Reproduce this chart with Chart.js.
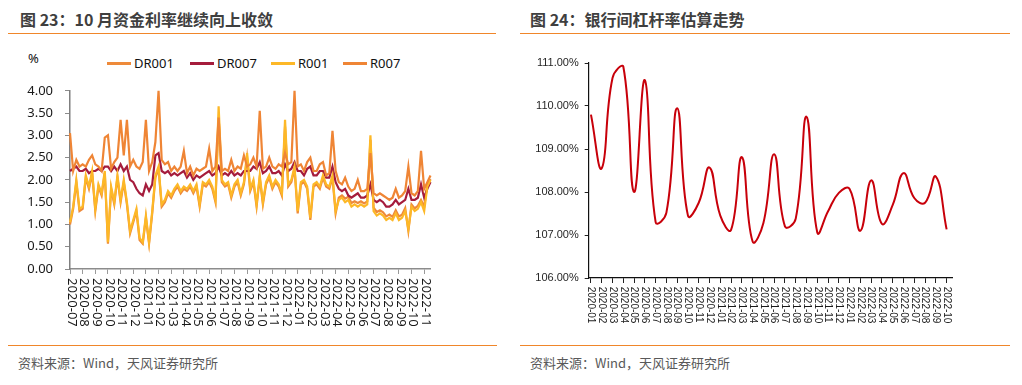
<!DOCTYPE html>
<html lang="zh">
<head>
<meta charset="UTF-8">
<title>资金利率与银行间杠杆率</title>
<script src="https://cdn.jsdelivr.net/npm/chart.js"></script>
<style>
  body {
    margin: 0;
    width: 1022px;
    height: 385px;
    background: #fff;
    position: relative;
    overflow: hidden;
    font-family: 'Noto Sans', 'Noto Sans CJK SC', sans-serif;
  }
  .title {
    position: absolute;
    top: 7px;
    line-height: 20px;
    font: bold 16px 'Noto Sans CJK SC', sans-serif;
    color: #3f3f3f;
  }
  .rule {
    position: absolute;
    height: 0;
    border-top: 1.5px solid #F0862A;
  }
  .source {
    position: absolute;
    top: 354px;
    line-height: 18px;
    font-size: 13px;
    font-family: 'Noto Sans CJK SC', sans-serif;
    color: #595959;
  }
  .leg-line { position: absolute; top: 62px; width: 24px; height: 3px; }
  .leg-text { position: absolute; top: 55px; line-height: 16px; font-size: 13px; color: #111; }
  canvas { position: absolute; }
</style>
</head>
<body>
  <div class="title" style="left:20px">图 23：10 月资金利率继续向上收敛</div>
  <div class="rule" style="left:8px; width:488px; top:33px"></div>
  <div class="title" style="left:530px">图 24：银行间杠杆率估算走势</div>
  <div class="rule" style="left:520px; width:490px; top:33px"></div>

  <div class="leg-text" style="left:28px; top:50px">%</div>
  <div class="leg-line" style="left:107px; background:#EE8A3A"></div>
  <div class="leg-text" style="left:134px">DR001</div>
  <div class="leg-line" style="left:190px; background:#A51C3C"></div>
  <div class="leg-text" style="left:217px">DR007</div>
  <div class="leg-line" style="left:271px; background:#FDB827"></div>
  <div class="leg-text" style="left:298px">R001</div>
  <div class="leg-line" style="left:343px; background:#EF8535"></div>
  <div class="leg-text" style="left:370px">R007</div>

  <canvas id="rateChart" width="500" height="269" style="left:0; top:71px"></canvas>
  <canvas id="levChart" width="500" height="290" style="left:510px; top:50px"></canvas>

  <div class="rule" style="left:8px; width:489px; top:345px"></div>
  <div class="source" style="left:18px">资料来源：Wind，天风证券研究所</div>
  <div class="rule" style="left:520px; width:490px; top:345px"></div>
  <div class="source" style="left:530px">资料来源：Wind，天风证券研究所</div>

<script>
// ---- left chart: money market rates, one value per week (2020-07 .. 2022-11) ----
const monthsA = ['2020-07', '2020-08', '2020-09', '2020-10', '2020-11', '2020-12',
  '2021-01', '2021-02', '2021-03', '2021-04', '2021-05', '2021-06', '2021-07', '2021-08',
  '2021-09', '2021-10', '2021-11', '2021-12', '2022-01', '2022-02', '2022-03', '2022-04',
  '2022-05', '2022-06', '2022-07', '2022-08', '2022-09', '2022-10', '2022-11'];
const stepMonths = 0.25;

const dr001 = [
  1.0, 1.35, 1.95, 1.3, 1.35, 2.05, 1.8, 2.15, 1.3, 1.85,
  1.65, 2.15, 0.57, 1.8, 1.45, 2.05, 1.5, 1.95, 1.45, 0.8,
  1.05, 1.3, 0.65, 0.57, 1.15, 0.57, 1.25, 2.05, 2.25, 1.4,
  1.5, 1.7, 1.6, 1.75, 1.85, 1.7, 1.8, 1.75, 1.85, 1.7,
  1.85, 1.4, 1.9, 1.85, 1.95, 1.8, 1.5, 3.4, 1.95, 1.85,
  1.9, 1.6, 1.85, 1.95, 1.65, 1.9, 2.5, 1.75, 1.95, 1.4,
  2.05, 1.45, 1.9, 2.05, 1.8, 1.95, 1.85, 1.65, 3.2, 1.85,
  1.95, 2.25, 1.25, 1.9, 1.95, 1.8, 1.1, 1.85, 1.9, 1.8,
  2.05, 1.85, 1.8, 2.05, 1.25, 1.6, 1.65, 1.58, 1.62, 1.48,
  1.52, 1.48, 1.52, 1.47, 1.52, 2.9, 1.38, 1.28, 1.32, 1.27,
  1.18, 1.22, 1.17, 1.32, 1.18, 1.22, 1.37, 0.85, 1.45, 1.36,
  1.42, 1.55, 1.4, 1.9, 2.02];
const dr007 = [
  2.2, 2.25, 2.3, 2.2, 2.2, 2.25, 2.15, 2.2, 2.2, 2.25,
  2.2, 2.3, 2.3, 2.2, 2.3, 2.2, 2.35, 2.2, 2.3, 2.0,
  1.95, 1.8, 1.7, 1.65, 1.9, 1.75, 1.9, 2.55, 2.6, 2.2,
  2.15, 2.2, 2.1, 2.15, 2.1, 2.15, 2.2, 2.05, 2.15, 2.0,
  2.1, 2.05, 2.1, 2.15, 2.2, 2.1, 2.15, 2.3, 2.1, 2.15,
  2.1, 2.2, 2.1, 2.15, 2.1, 2.2, 2.2, 2.2, 2.3, 2.25,
  2.4, 2.15, 2.2, 2.3, 2.15, 2.15, 2.2, 2.1, 2.35, 2.2,
  2.25, 2.4, 2.2, 2.2, 2.1, 2.25, 2.3, 2.1, 2.1, 2.2,
  2.2, 2.05, 2.05, 2.3, 1.95, 1.8, 1.75, 1.8, 1.65, 1.6,
  1.65, 1.7, 1.6, 1.6, 1.65, 1.9, 1.55, 1.5, 1.55, 1.5,
  1.4, 1.4, 1.45, 1.55, 1.45, 1.5, 1.55, 1.8, 1.55, 1.55,
  1.6, 1.9, 1.6, 1.8, 1.95];
const r001 = [
  1.05, 1.4, 2.0, 1.35, 1.4, 2.1, 1.85, 2.2, 1.35, 1.9,
  1.7, 2.2, 0.6, 1.85, 1.5, 2.1, 1.55, 2.0, 1.5, 0.85,
  1.1, 1.35, 0.7, 0.6, 1.2, 0.6, 1.3, 2.1, 2.3, 1.45,
  1.55, 1.75, 1.65, 1.8, 1.9, 1.75, 1.85, 1.8, 1.9, 1.75,
  1.9, 1.45, 1.95, 1.9, 2.0, 1.85, 1.55, 3.65, 2.0, 1.9,
  1.95, 1.65, 1.9, 2.0, 1.7, 1.95, 2.6, 1.8, 2.0, 1.45,
  2.1, 1.5, 1.95, 2.1, 1.85, 2.0, 1.9, 1.7, 3.35, 1.9,
  2.0, 2.3, 1.3, 1.95, 2.0, 1.85, 1.15, 1.9, 1.95, 1.85,
  2.1, 1.9, 1.85, 2.1, 1.3, 1.55, 1.6, 1.5, 1.55, 1.4,
  1.45, 1.4, 1.45, 1.4, 1.45, 3.0, 1.3, 1.2, 1.25, 1.2,
  1.1, 1.15, 1.1, 1.25, 1.1, 1.15, 1.3, 0.9, 1.4, 1.3,
  1.35, 1.5, 1.3, 1.85, 2.0];
const r007 = [
  3.05, 2.2, 2.45, 2.3, 2.35, 2.3, 2.45, 2.55, 2.35, 2.3,
  2.2, 2.95, 3.0, 2.25, 2.4, 2.5, 3.35, 2.55, 3.35, 2.3,
  2.45, 2.3, 2.25, 2.4, 3.35, 2.2, 2.4, 2.85, 4.0, 2.45,
  2.35, 2.4, 2.2, 2.3, 2.2, 2.3, 2.65, 2.15, 2.3, 2.1,
  2.25, 2.2, 2.25, 2.3, 2.7, 2.2, 2.3, 3.4, 2.2, 2.25,
  2.2, 2.45, 2.2, 2.3, 2.25, 2.55, 2.3, 2.35, 2.5, 2.3,
  3.55, 2.25, 2.3, 2.5, 2.3, 2.25, 2.35, 2.3, 2.6, 2.35,
  2.4, 4.0, 2.3, 2.35, 2.2, 2.4, 2.5, 2.2, 2.2, 2.35,
  2.4, 2.1, 2.15, 3.1, 2.2, 1.95, 1.9, 2.05, 1.85, 1.75,
  1.8, 2.0, 1.75, 1.75, 1.8, 2.6, 1.7, 1.65, 1.7, 1.65,
  1.6, 1.55, 1.6, 1.8, 1.6, 1.65, 1.75, 2.3, 1.7, 1.65,
  1.75, 2.65, 1.8, 1.95, 2.1];

// ---- right chart: interbank leverage estimate, monthly (2020-01 .. 2022-10) ----
const monthsB = ['2020-01', '2020-02', '2020-03', '2020-04', '2020-05', '2020-06',
  '2020-07', '2020-08', '2020-09', '2020-10', '2020-11', '2020-12',
  '2021-01', '2021-02', '2021-03', '2021-04', '2021-05', '2021-06',
  '2021-07', '2021-08', '2021-09', '2021-10', '2021-11', '2021-12',
  '2022-01', '2022-02', '2022-03', '2022-04', '2022-05', '2022-06',
  '2022-07', '2022-08', '2022-09', '2022-10'];
const leverage = [109.80, 108.55, 110.65, 110.92, 108.00, 110.60, 107.30, 107.52,
  109.95, 107.45, 107.75, 108.57, 107.45, 107.12, 108.81, 106.85, 107.28, 108.88,
  107.20, 107.38, 109.75, 107.06, 107.55, 107.98, 108.07, 107.10, 108.27, 107.26,
  107.70, 108.44, 107.86, 107.75, 108.36, 107.13];

// x labels read top-to-bottom, so draw them turned clockwise
function verticalLabels(labels, font, color, gap, shift) {
  return {
    id: 'verticalLabels',
    afterDraw(chart) {
      const xs = chart.scales.x;
      const ctx = chart.ctx;
      ctx.save();
      ctx.font = font;
      ctx.fillStyle = color;
      ctx.textAlign = 'left';
      ctx.textBaseline = 'middle';
      labels.forEach((lab, i) => {
        ctx.save();
        ctx.translate(xs.getPixelForValue(i) + shift, xs.top + gap);
        ctx.rotate(Math.PI / 2);
        ctx.fillText(lab, 0, 0);
        ctx.restore();
      });
      ctx.restore();
    }
  };
}

const toPoints = arr => arr.map((v, i) => ({ x: i * stepMonths, y: v }));
const lineSet = (label, arr, color, order) => ({
  label, data: toPoints(arr), borderColor: color, backgroundColor: color,
  borderWidth: 2.2, pointRadius: 0, tension: 0, order, clip: false
});

new Chart(document.getElementById('rateChart'), {
  type: 'line',
  data: {
    datasets: [
      lineSet('DR001', dr001, '#EE8A3A', 3),
      lineSet('DR007', dr007, '#A51C3C', 2),
      lineSet('R001', r001, '#FDB827', 1),
      lineSet('R007', r007, '#EF8535', 0)
    ]
  },
  options: {
    responsive: false,
    animation: false,
    layout: { padding: { left: 0, right: 70, top: 10, bottom: 11 } },
    plugins: { legend: { display: false }, tooltip: { enabled: false } },
    scales: {
      x: {
        type: 'linear', min: 0, max: 28.46,
        afterBuildTicks: s => { s.ticks = monthsA.map((_, i) => ({ value: i })); },
        afterFit: s => { s.height = 60; },
        ticks: { display: false },
        grid: { drawOnChartArea: false, drawTicks: true, tickLength: 5, color: '#9a9a9a' },
        border: { color: '#8c8c8c', width: 1.5 }
      },
      y: {
        min: 0, max: 4,
        afterFit: s => { s.width = 70; },
        ticks: {
          stepSize: 0.5, padding: 12, color: '#1a1a1a',
          font: { family: 'Noto Sans', size: 13 },
          callback: v => v.toFixed(2)
        },
        grid: { drawOnChartArea: false, drawTicks: true, tickLength: 5, color: '#8c8c8c' },
        border: { color: '#7f7f7f', width: 1.5 }
      }
    }
  },
  plugins: [verticalLabels(monthsA, '13px "Noto Sans"', '#1a1a1a', 9, 1.5)]
});

new Chart(document.getElementById('levChart'), {
  type: 'line',
  data: {
    datasets: [{
      label: '银行间杠杆率',
      data: leverage.map((v, i) => ({ x: i, y: v })),
      borderColor: '#C8000A',
      borderWidth: 2,
      pointRadius: 0,
      tension: 0.45,
      clip: false
    }]
  },
  options: {
    responsive: false,
    animation: false,
    layout: { padding: { left: 0, right: 58, top: 13, bottom: 7 } },
    plugins: { legend: { display: false }, tooltip: { enabled: false } },
    scales: {
      x: {
        type: 'linear', min: -0.21, max: 33.5,
        afterBuildTicks: s => { s.ticks = monthsB.map((_, i) => ({ value: i })); },
        afterFit: s => { s.height = 55; },
        ticks: { display: false },
        grid: { drawOnChartArea: false, drawTicks: true, tickLength: 5, color: '#222' },
        border: { color: '#111', width: 1.2 }
      },
      y: {
        min: 106, max: 111,
        afterFit: s => { s.width = 78.7; },
        ticks: {
          stepSize: 1, padding: 6, color: '#262626',
          font: { family: 'Liberation Sans', size: 11 },
          callback: v => v.toFixed(2) + '%'
        },
        grid: { drawOnChartArea: false, drawTicks: true, tickLength: 4, color: '#222' },
        border: { color: '#111', width: 1.2 }
      }
    }
  },
  plugins: [verticalLabels(monthsB, '10px "Liberation Sans"', '#1a1a1a', 8.7, 0)]
});
</script>
</body>
</html>
